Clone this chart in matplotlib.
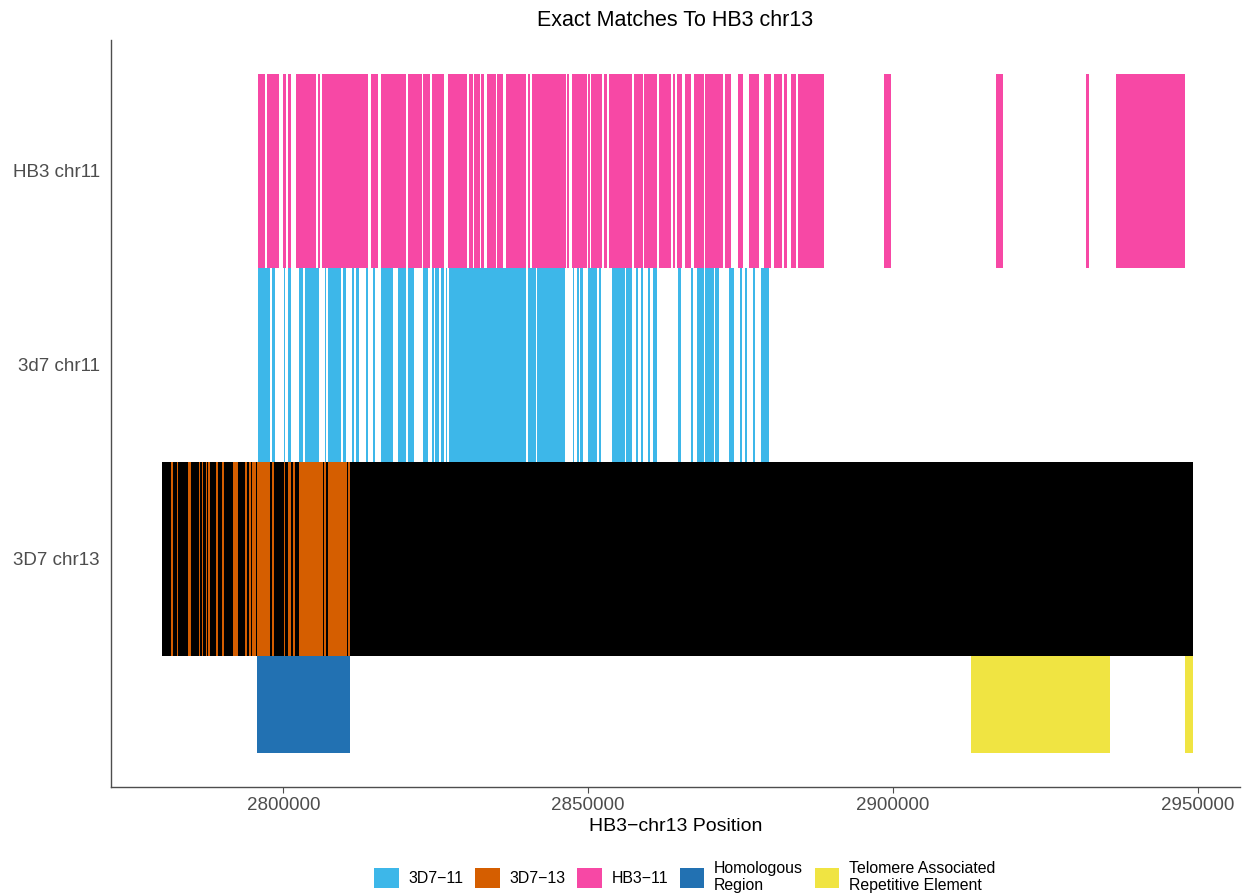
import matplotlib.pyplot as plt
from matplotlib.patches import Patch

plt.rcParams['font.family'] = ['Liberation Sans', 'DejaVu Sans']

# exact match blocks (start, end) on HB3 chr13 coordinates
hb3_11_start = [2795790, 2797330, 2799890, 2800770, 2802080, 2805690, 2806390, 2814310,
                2816020, 2820440, 2822950, 2824310, 2826930, 2830380, 2831260, 2832460,
                2833390, 2835080, 2836510, 2840050, 2840770, 2846560, 2847380, 2850000,
                2850490, 2852670, 2853440, 2857590, 2859130, 2861590, 2863880, 2864540,
                2865790, 2867330, 2869180, 2872510, 2874540, 2876390, 2878900, 2880540,
                2882080, 2883280, 2884370, 2898570, 2916880, 2931690, 2936550]
hb3_11_end = [2797000, 2799340, 2800440, 2801310, 2805300, 2806020, 2813820, 2815460,
              2820160, 2822670, 2824100, 2826390, 2830160, 2831100, 2832290, 2832950,
              2834800, 2836070, 2839790, 2840490, 2846390, 2846880, 2849840, 2850330,
              2852340, 2853060, 2857100, 2858970, 2861200, 2863650, 2864260, 2865360,
              2866880, 2868970, 2872080, 2873440, 2875410, 2878080, 2880000, 2881850,
              2882570, 2884050, 2888740, 2899620, 2917980, 2932080, 2947910]

d7_11_start = [2795790, 2798200, 2800050, 2800820, 2802570, 2803610, 2806770, 2807330,
               2809180, 2809840, 2811260, 2811850, 2813490, 2814750, 2816020, 2818740,
               2820440, 2820980, 2822900, 2824310, 2824800, 2825900, 2826610, 2827100,
               2840050, 2841600, 2847430, 2848200, 2848690, 2850000, 2851800, 2853980,
               2855130, 2856230, 2857820, 2858640, 2859790, 2860650, 2864800, 2866880,
               2867870, 2869180, 2870820, 2873060, 2874870, 2875690, 2877000, 2878360]
d7_11_end = [2797820, 2798690, 2800330, 2801310, 2803280, 2805900, 2807050, 2809070,
             2809510, 2810280, 2811520, 2812410, 2813890, 2815080, 2818030, 2820160,
             2820870, 2821430, 2823770, 2824640, 2825460, 2826390, 2826840, 2839840,
             2841500, 2846230, 2847750, 2848520, 2849130, 2851470, 2852080, 2854970,
             2856110, 2857210, 2858150, 2858970, 2860110, 2861200, 2865240, 2867210,
             2869020, 2870700, 2871420, 2873980, 2875200, 2876110, 2877380, 2879620]

d7_13_start = [2781640, 2782510, 2784430, 2786180, 2786610, 2787260, 2787710, 2788970,
               2789890, 2791690, 2793720, 2794430, 2794920, 2795690, 2798200, 2800050,
               2800820, 2801560, 2802570, 2806720, 2807330, 2809180, 2810540]
d7_13_end = [2781920, 2782790, 2784920, 2786390, 2786840, 2787490, 2788030, 2789230,
             2790280, 2792570, 2794050, 2794670, 2795530, 2797870, 2798440, 2800330,
             2801310, 2801890, 2806440, 2807000, 2809070, 2810440, 2810980]

chr13_start = 2780100
chr13_end = 2949200

homologous_start = [2795740]
homologous_end = [2810980]
tare_start = [2912790, 2947870]
tare_end = [2935570, 2949180]

row_labels = ['3D7 chr13', '3d7 chr11', 'HB3 chr11']
row_pos = [1, 2, 3]
xticks = [2800000, 2850000, 2900000, 2950000]

legend_labels = ['3D7\u221211', '3D7\u221213', 'HB3\u221211', 'Homologous\nRegion',
                 'Telomere Associated\nRepetitive Element']
colors = ['#3DB7E9', '#D55E00', '#F748A5', '#2271B2', '#F0E442']


def spans(starts, ends):
    return [(s, e - s) for s, e in zip(starts, ends)]


fig = plt.figure(figsize=(12.45, 8.94), dpi=100)
ax = fig.add_axes([0.0892, 0.1197, 0.9068, 0.8356])

ax.broken_barh(spans(hb3_11_start, hb3_11_end), (2.5, 1), facecolors=colors[2], linewidth=0)
ax.broken_barh(spans(d7_11_start, d7_11_end), (1.5, 1), facecolors=colors[0], linewidth=0)
ax.broken_barh([(chr13_start, chr13_end - chr13_start)], (0.5, 1), facecolors='black', linewidth=0)
ax.broken_barh(spans(d7_13_start, d7_13_end), (0.5, 1), facecolors=colors[1], linewidth=0)
ax.broken_barh(spans(homologous_start, homologous_end), (0, 0.5), facecolors=colors[3], linewidth=0)
ax.broken_barh(spans(tare_start, tare_end), (0, 0.5), facecolors=colors[4], linewidth=0)

ax.set_xlim(2771750, 2956890)
ax.set_ylim(-0.175, 3.675)
ax.set_yticks(row_pos)
ax.set_yticklabels(row_labels)
ax.set_xticks(xticks)
ax.set_xticklabels([str(v) for v in xticks])

for side in ['top', 'right']:
    ax.spines[side].set_visible(False)
for side in ['left', 'bottom']:
    ax.spines[side].set_color('#4D4D4D')
    ax.spines[side].set_linewidth(1.0)
ax.tick_params(axis='y', length=0, labelsize=13.5, labelcolor='#4D4D4D', pad=8)
ax.tick_params(axis='x', length=4, color='#4D4D4D', labelsize=13.5, labelcolor='#4D4D4D', pad=3)

ax.set_title('Exact Matches To HB3 chr13', fontsize=15.5, pad=10)
ax.set_xlabel('HB3\u2212chr13 Position', fontsize=14, labelpad=3)

handles = [Patch(facecolor=c, edgecolor='none') for c in colors]
fig.legend(handles, legend_labels, loc='center', bbox_to_anchor=(0.55, 0.019), ncol=5,
           frameon=False, fontsize=11.4, handlelength=1.55, handleheight=1.55,
           columnspacing=0.75, handletextpad=0.6, labelspacing=0.2)

fig.savefig('out.png', dpi=100)
